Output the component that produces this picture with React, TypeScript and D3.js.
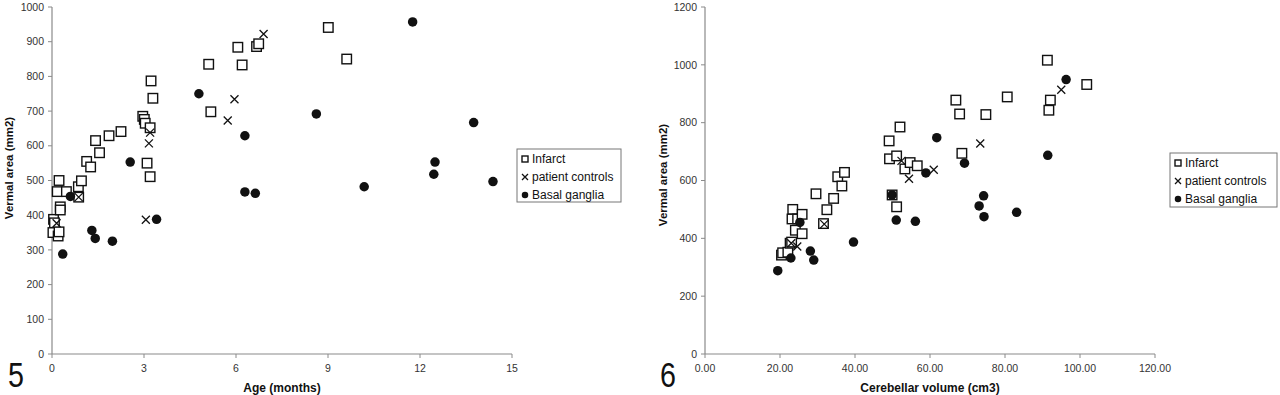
import * as d3 from 'd3';

// Fig 5: age (months) vs vermal area
const ageInfarct = [0.05, 0.08, 0.03, 0.2, 0.23, 0.17, 0.23, 0.27, 0.27, 0.47, 0.86, 0.87, 0.96, 1.13, 1.26, 1.42, 1.55, 1.86, 2.25, 2.96, 3.01, 3.04, 3.2, 3.23, 3.29, 3.1, 3.2, 5.11, 5.18, 6.06, 6.2, 6.67, 6.74, 9.01, 9.61];
const areaInfarct5 = [388, 378, 350, 340, 352, 468, 500, 424, 415, 468, 482, 452, 499, 555, 539, 615, 580, 629, 641, 685, 676, 665, 652, 787, 737, 550, 511, 835, 698, 884, 833, 886, 894, 941, 850];
const ageControls = [0.15, 0.87, 3.2, 3.16, 3.06, 5.95, 5.73, 6.9];
const areaControls5 = [377, 452, 638, 607, 387, 734, 673, 922];
const ageBasal = [0.6, 0.35, 1.3, 1.41, 1.97, 2.55, 3.41, 4.79, 6.29, 6.29, 6.63, 8.62, 10.18, 11.76, 12.49, 12.45, 13.75, 14.38];
const areaBasal5 = [454, 288, 356, 333, 325, 553, 388, 750, 629, 467, 463, 692, 482, 957, 553, 518, 667, 497];

// Fig 6: cerebellar volume (cm3) vs vermal area
const volInfarct = [20.4, 20.7, 22.1, 22.7, 23.1, 23.4, 23.2, 24.7, 24.1, 25.9, 25.9, 29.6, 31.6, 32.5, 34.3, 35.4, 36.5, 37.2, 49.2, 51.1, 53.3, 54.7, 56.6, 49.9, 51.1, 52, 49.1, 66.9, 67.9, 74.9, 80.6, 68.5, 91.3, 101.8, 92.1, 91.7];
const areaInfarct6 = [342, 350, 352, 383, 387, 500, 467, 467, 428, 483, 416, 554, 451, 499, 538, 613, 581, 628, 675, 685, 640, 662, 651, 550, 509, 785, 737, 878, 830, 828, 889, 694, 1016, 932, 878, 843];
const volControls = [23, 24.6, 31.8, 52.4, 54.4, 61, 73.4, 95];
const areaControls6 = [383, 372, 449, 668, 606, 637, 728, 914];
const volBasal = [19.4, 22.9, 25.3, 28.1, 29, 39.6, 49.9, 51, 56.1, 58.9, 61.8, 69.2, 74.3, 73.1, 74.4, 83.1, 96.3, 91.4];
const areaBasal6 = [288, 332, 455, 356, 325, 387, 550, 463, 459, 626, 748, 660, 547, 512, 475, 490, 949, 687];

const seriesNames = ['Infarct', 'patient controls', 'Basal ganglia'];

const FONT = 'Liberation Sans, Arial, sans-serif';

type Pt = [number, number];
const zip = (xs: number[], ys: number[]): Pt[] => xs.map((x, i) => [x, ys[i]]);

type ChartProps = {
  left: number;
  right: number;
  top: number;
  bottom: number;
  xMax: number;
  xStep: number;
  xFmt: (v: number) => string;
  yMax: number;
  yStep: number;
  xLabel: string;
  yLabelX: number;
  yLabelY: number;
  fig: string;
  figX: number;
  legend: { x: number; y: number; w: number; h: number };
  infarct: Pt[];
  controls: Pt[];
  basal: Pt[];
};

const Mark = ({ kind, x, y, s }: { kind: number; x: number; y: number; s: number }) => {
  if (kind === 0)
    return <rect x={x - s / 2} y={y - s / 2} width={s} height={s} fill="#fff" stroke="#111" strokeWidth={1.4} />;
  if (kind === 1) {
    const h = s / 2;
    return (
      <path d={`M${x - h},${y - h}L${x + h},${y + h}M${x - h},${y + h}L${x + h},${y - h}`} stroke="#111" strokeWidth={1.3} fill="none" />
    );
  }
  return <circle cx={x} cy={y} r={s / 2} fill="#111" />;
};

const Chart = (p: ChartProps) => {
  const x = d3.scaleLinear().domain([0, p.xMax]).range([p.left, p.right]);
  const y = d3.scaleLinear().domain([0, p.yMax]).range([p.bottom, p.top]);
  const xTicks = d3.range(0, p.xMax + 1e-9, p.xStep);
  const yTicks = d3.range(0, p.yMax + 1e-9, p.yStep);
  const rows: Pt[][] = [p.infarct, p.controls, p.basal];
  const sizes = [9.5, 8, 9.5];
  return (
    <g fontFamily={FONT}>
      <line x1={p.left} x2={p.left} y1={p.top} y2={p.bottom} stroke="#8a8a8a" strokeWidth={1.2} />
      <line x1={p.left} x2={p.right} y1={p.bottom} y2={p.bottom} stroke="#8a8a8a" strokeWidth={1.2} />
      {yTicks.map(t => (
        <g key={'y' + t}>
          <line x1={p.left - 4} x2={p.left} y1={y(t)} y2={y(t)} stroke="#8a8a8a" />
          <text x={p.left - 8} y={y(t)} dy="0.35em" textAnchor="end" fontSize={10.5} fill="#333">
            {t}
          </text>
        </g>
      ))}
      {xTicks.map(t => (
        <g key={'x' + t}>
          <line x1={x(t)} x2={x(t)} y1={p.bottom} y2={p.bottom + 4} stroke="#8a8a8a" />
          <text x={x(t)} y={p.bottom + 18} textAnchor="middle" fontSize={10.5} fill="#333">
            {p.xFmt(t)}
          </text>
        </g>
      ))}
      <text x={(p.left + p.right) / 2} y={392} textAnchor="middle" fontSize={12} fontWeight="bold" fill="#111">
        {p.xLabel}
      </text>
      <text
        transform={`translate(${p.yLabelX},${p.yLabelY}) rotate(-90)`}
        textAnchor="middle"
        fontSize={11.5}
        fontWeight="bold"
        fill="#111"
      >
        Vermal area (mm2)
      </text>
      <text transform={`translate(${p.figX},387) scale(0.82,1)`} fontSize={35} fill="#111">
        {p.fig}
      </text>
      {rows.map((pts, k) => (
        <g key={'s' + k}>
          {pts.map((d, i) => (
            <Mark key={i} kind={k} x={x(d[0])} y={y(d[1])} s={sizes[k]} />
          ))}
        </g>
      ))}
      <g transform={`translate(${p.legend.x},${p.legend.y})`}>
        <rect width={p.legend.w} height={p.legend.h} fill="#fff" stroke="#777" strokeWidth={1} />
        {seriesNames.map((n, k) => (
          <g key={n} transform={`translate(0,${10 + k * 18})`}>
            <Mark kind={k} x={8} y={0} s={k === 2 ? 6.5 : 6} />
            <text x={15} y={0} dy="0.35em" fontSize={12} fill="#111">
              {n}
            </text>
          </g>
        ))}
      </g>
    </g>
  );
};

export default function App() {
  return (
    <svg width={1280} height={395} style={{ position: 'absolute', left: 0, top: 0, background: '#fff' }}>
      <rect width={1280} height={395} fill="#fff" />
      <Chart
        left={52}
        right={512}
        top={7}
        bottom={354}
        xMax={15}
        xStep={3}
        xFmt={v => String(v)}
        yMax={1000}
        yStep={100}
        xLabel="Age (months)"
        yLabelX={13}
        yLabelY={168}
        fig="5"
        figX={8}
        legend={{ x: 517, y: 149, w: 104, h: 53 }}
        infarct={zip(ageInfarct, areaInfarct5)}
        controls={zip(ageControls, areaControls5)}
        basal={zip(ageBasal, areaBasal5)}
      />
      <Chart
        left={705}
        right={1155}
        top={7}
        bottom={354}
        xMax={120}
        xStep={20}
        xFmt={v => v.toFixed(2)}
        yMax={1200}
        yStep={200}
        xLabel="Cerebellar volume (cm3)"
        yLabelX={667}
        yLabelY={175}
        fig="6"
        figX={660}
        legend={{ x: 1170, y: 153, w: 107, h: 54 }}
        infarct={zip(volInfarct, areaInfarct6)}
        controls={zip(volControls, areaControls6)}
        basal={zip(volBasal, areaBasal6)}
      />
    </svg>
  );
}
